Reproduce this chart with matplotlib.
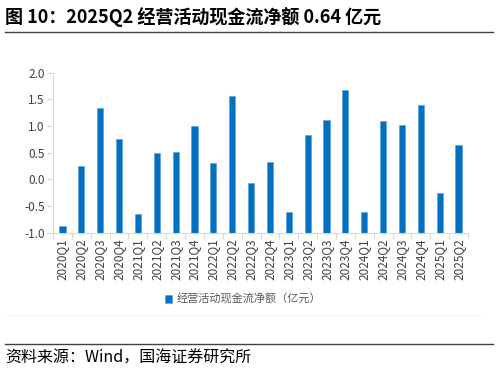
import matplotlib
matplotlib.use("Agg")
import matplotlib.pyplot as plt
import numpy as np

plt.rcParams['font.family'] = ['Noto Sans CJK SC', 'DejaVu Sans']

categories = ["2020Q1", "2020Q2", "2020Q3", "2020Q4", "2021Q1", "2021Q2", "2021Q3", "2021Q4",
              "2022Q1", "2022Q2", "2022Q3", "2022Q4", "2023Q1", "2023Q2", "2023Q3", "2023Q4",
              "2024Q1", "2024Q2", "2024Q3", "2024Q4", "2025Q1", "2025Q2"]
values = [-0.87, 0.25, 1.33, 0.75, -0.65, 0.49, 0.51, 1.00,
          0.30, 1.57, -0.06, 0.32, -0.61, 0.83, 1.11, 1.67,
          -0.61, 1.09, 1.01, 1.40, -0.26, 0.64]
yticks = [-1.0, -0.5, 0.0, 0.5, 1.0, 1.5, 2.0]
series_name = "经营活动现金流净额（亿元）"
title = "图 10：2025Q2 经营活动现金流净额 0.64 亿元"
source = "资料来源：Wind，国海证券研究所"

W, H = 498, 372
fig = plt.figure(figsize=(W / 100, H / 100), dpi=100)

ax = fig.add_axes([53 / W, 1 - 232.7 / H, (468 - 53) / W, (232.7 - 72.7) / H])
base = -1.0
x = np.arange(len(categories))
vals = np.array(values)
ax.bar(x, vals - base, bottom=base, width=0.33, color="#0070C0",
       edgecolor="#5B9BD5", linewidth=0.4, label=series_name)
ax.set_xlim(-0.5, len(categories) - 0.5)
ax.set_ylim(-1.0, 2.0)
ax.set_yticks(yticks)
ax.set_yticklabels([f"{v:.1f}" for v in yticks], fontsize=8.5, color="#404040")
ax.set_xticks(x)
ax.set_xticklabels(categories, rotation=90, fontsize=8.5, color="#404040")
ax.tick_params(axis='x', length=0, pad=4)
ax.set_xticks(np.arange(-0.5, len(categories), 1), minor=True)
ax.tick_params(axis='x', which='minor', length=4, color="#D9D9D9", width=0.8)
ax.tick_params(axis='y', length=4, color="#D9D9D9", width=0.8, pad=2)
for s in ["top", "right"]:
    ax.spines[s].set_visible(False)
ax.spines["left"].set_color("#D9D9D9")
ax.spines["bottom"].set_color("#D9D9D9")
ax.spines["left"].set_linewidth(0.8)
ax.spines["bottom"].set_linewidth(0.8)

leg = fig.legend(loc="center", bbox_to_anchor=(243 / W, 1 - 299 / H), frameon=False,
                 fontsize=8, handlelength=0.7, handleheight=0.7, handletextpad=0.4)
for t in leg.get_texts():
    t.set_color("#595959")

fig.text(5 / W, 1 - 17 / H, title, fontsize=13, fontweight="bold", va="center", ha="left", color="black")
fig.add_artist(plt.Line2D([5 / W, 493 / W], [1 - 32 / H] * 2, color="#404040", linewidth=1.0))
fig.add_artist(plt.Line2D([5 / W, 483 / W], [1 - 315 / H] * 2, color="#F2F2F2", linewidth=0.6))
fig.add_artist(plt.Line2D([5 / W, 493 / W], [1 - 344 / H] * 2, color="#404040", linewidth=1.0))
fig.text(5 / W, 1 - 358 / H, source, fontsize=11.5, va="center", ha="left", color="black")

fig.savefig("out.png", dpi=100)
